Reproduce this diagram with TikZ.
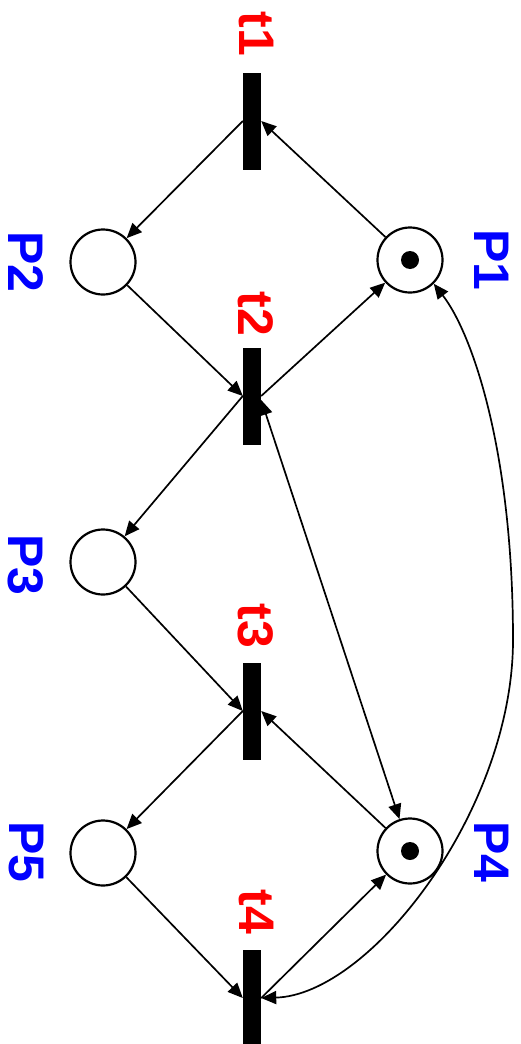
\documentclass[tikz,border=0pt]{standalone}
\usepackage{fontspec}
\setmainfont{Liberation Sans}
\usetikzlibrary{arrows.meta,calc}
\definecolor{tred}{RGB}{255,0,0}
\definecolor{pblue}{RGB}{0,0,255}
\tikzset{
  place/.style={circle,draw,line width=2.2pt,minimum size=65pt,inner sep=0pt},
  trans/.style={rectangle,fill=black,minimum width=18pt,minimum height=97pt,inner sep=0pt},
  tlabel/.style={text=tred,font=\fontsize{50}{60}\selectfont\bfseries,rotate=-90,inner sep=0pt},
  plabel/.style={text=pblue,font=\fontsize{50}{60}\selectfont\bfseries,rotate=-90,inner sep=0pt},
  arc/.style={line width=1.7pt,-{Triangle[length=15pt,width=13pt]}},
  biarc/.style={line width=1.7pt,{Triangle[length=15pt,width=13pt]}-{Triangle[length=15pt,width=13pt]}},
  token/.style={fill=black}
}
\begin{document}
\begin{tikzpicture}[x=1pt,y=-1pt]
\useasboundingbox (0,0) rectangle (520,1044);
% transitions
\node[trans] (t1) at (252,121) {};
\node[trans] (t2) at (252,396) {};
\node[trans] (t3) at (252,711) {};
\node[trans] (t4) at (252,998) {};
% places
\node[place] (P1) at (410,260) {};
\node[place] (P2) at (103,262) {};
\node[place] (P3) at (103,562) {};
\node[place] (P4) at (410,851) {};
\node[place] (P5) at (103,853) {};
\fill[token] (P1) circle (9);
\fill[token] (P4) circle (9);
% labels
\node[tlabel] (lt1) at (256,34) {t1};
\node[tlabel] (lt2) at (256,314) {t2};
\node[tlabel] (lt3) at (256,626) {t3};
\node[tlabel] (lt4) at (256,912) {t4};
\node[plabel] (lP1) at (492,260) {P1};
\node[plabel] (lP2) at (26,262) {P2};
\node[plabel] (lP3) at (26,565) {P3};
\node[plabel] (lP4) at (492,852) {P4};
\node[plabel] (lP5) at (26,852) {P5};
% arcs
\draw[arc] (P1) -- (t1.east);
\draw[arc] (t1.west) -- (P2);
\draw[arc] (P2) -- (t2.west);
\draw[arc] (t2.east) -- (P1);
\draw[arc] (t2.west) -- (P3);
\draw[biarc] ($(t2.east)+(0,4)$) -- (P4);
\draw[arc] (P3) -- (t3.west);
\draw[arc] (t3.west) -- (P5);
\draw[arc] (P4) -- (t3.east);
\draw[arc] (P5) -- (t4.west);
\draw[arc] (t4.east) -- (P4);
\coordinate (far) at (513,640);
\draw[biarc] (P1.-45) .. controls (472,333) and (513,450) .. (far)
  .. controls (513,810) and (370,995) .. (t4.east);
\end{tikzpicture}
\end{document}
